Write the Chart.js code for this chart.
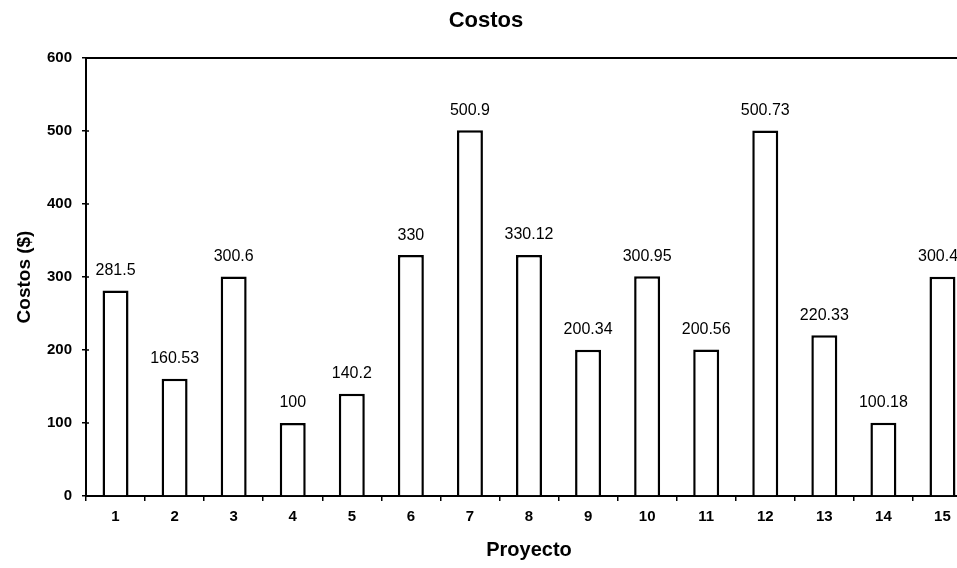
<!DOCTYPE html>
<html lang="es">
<head>
    <meta charset="UTF-8">
    <title>Costos</title>
    <script src="https://cdn.jsdelivr.net/npm/chart.js"></script>
    <style>
        body {
            margin: 0;
            background: #ffffff;
            overflow: hidden;
        }
        .chart-box {
            width: 975px;
            height: 568px;
        }
    </style>
</head>
<body>

<div class="chart-box">
    <canvas id="costosChart"></canvas>
</div>

<script>
    // Datos del gráfico
    const proyectos = ['1', '2', '3', '4', '5', '6', '7', '8', '9', '10', '11', '12', '13', '14', '15'];
    const costos = [281.5, 160.53, 300.6, 100, 140.2, 330, 500.9, 330.12, 200.34, 300.95, 200.56, 500.73, 220.33, 100.18, 300.48];
    const yTicks = [0, 100, 200, 300, 400, 500, 600];

    const fontFamily = 'Arial, "Liberation Sans", sans-serif';

    // Etiquetas de valor encima de cada barra
    const valueLabels = {
        id: 'valueLabels',
        afterDatasetsDraw(chart) {
            const ctx = chart.ctx;
            const meta = chart.getDatasetMeta(0);
            ctx.save();
            ctx.fillStyle = '#000000';
            ctx.font = '16px ' + fontFamily;
            ctx.textAlign = 'center';
            ctx.textBaseline = 'middle';
            meta.data.forEach((bar, i) => {
                ctx.fillText(String(costos[i]), bar.x, bar.y - 20);
            });
            ctx.restore();
        }
    };

    // Línea superior y marcas interiores del eje Y
    const frameExtras = {
        id: 'frameExtras',
        afterDraw(chart) {
            const { ctx, chartArea } = chart;
            const yScale = chart.scales.y;
            ctx.save();
            ctx.strokeStyle = '#000000';
            ctx.lineWidth = 2;
            ctx.beginPath();
            ctx.moveTo(chartArea.left, chartArea.top);
            ctx.lineTo(chartArea.right, chartArea.top);
            ctx.stroke();
            ctx.lineWidth = 1.5;
            yTicks.forEach(v => {
                const y = yScale.getPixelForValue(v);
                ctx.beginPath();
                ctx.moveTo(chartArea.left, y);
                ctx.lineTo(chartArea.left + 3, y);
                ctx.stroke();
            });
            ctx.restore();
        }
    };

    const ctx = document.getElementById('costosChart').getContext('2d');
    new Chart(ctx, {
        type: 'bar',
        data: {
            labels: proyectos,
            datasets: [{
                label: 'Costos',
                data: costos,
                backgroundColor: '#ffffff',
                borderColor: '#000000',
                borderWidth: 2.5,
                categoryPercentage: 1,
                barPercentage: 0.44
            }]
        },
        options: {
            responsive: true,
            maintainAspectRatio: false,
            animation: false,
            layout: { padding: { left: 0, right: 3, top: 0, bottom: 0 } },
            plugins: {
                legend: { display: false },
                tooltip: { enabled: false },
                title: {
                    display: true,
                    text: 'Costos',
                    color: '#000000',
                    font: { family: fontFamily, size: 22, weight: 'bold' },
                    padding: { top: 8, bottom: 23.6 }
                }
            },
            scales: {
                x: {
                    afterFit(scale) { scale.height = 72; },
                    grid: {
                        display: true,
                        offset: true,
                        drawOnChartArea: false,
                        drawTicks: true,
                        tickLength: 5,
                        color: '#000000',
                        lineWidth: 1.5
                    },
                    border: { display: true, color: '#000000', width: 2 },
                    ticks: {
                        color: '#000000',
                        padding: 7,
                        maxRotation: 0,
                        font: { family: fontFamily, size: 15, weight: 'bold' }
                    },
                    title: {
                        display: true,
                        text: 'Proyecto',
                        color: '#000000',
                        font: { family: fontFamily, size: 20, weight: 'bold' },
                        padding: { top: 4, bottom: 6 }
                    }
                },
                y: {
                    min: 0,
                    max: 600,
                    afterFit(scale) { scale.width = 86; },
                    afterBuildTicks(scale) {
                        scale.ticks = yTicks.map(v => ({ value: v }));
                    },
                    grid: {
                        display: true,
                        drawOnChartArea: false,
                        drawTicks: true,
                        tickLength: 4,
                        color: '#000000',
                        lineWidth: 1.5
                    },
                    border: { display: true, color: '#000000', width: 2 },
                    ticks: {
                        color: '#000000',
                        padding: 10,
                        font: { family: fontFamily, size: 15, weight: 'bold' }
                    },
                    title: {
                        display: true,
                        text: 'Costos ($)',
                        color: '#000000',
                        font: { family: fontFamily, size: 19, weight: 'bold' },
                        padding: { top: 13.6, bottom: 0 }
                    }
                }
            }
        },
        plugins: [valueLabels, frameExtras]
    });
</script>

</body>
</html>
